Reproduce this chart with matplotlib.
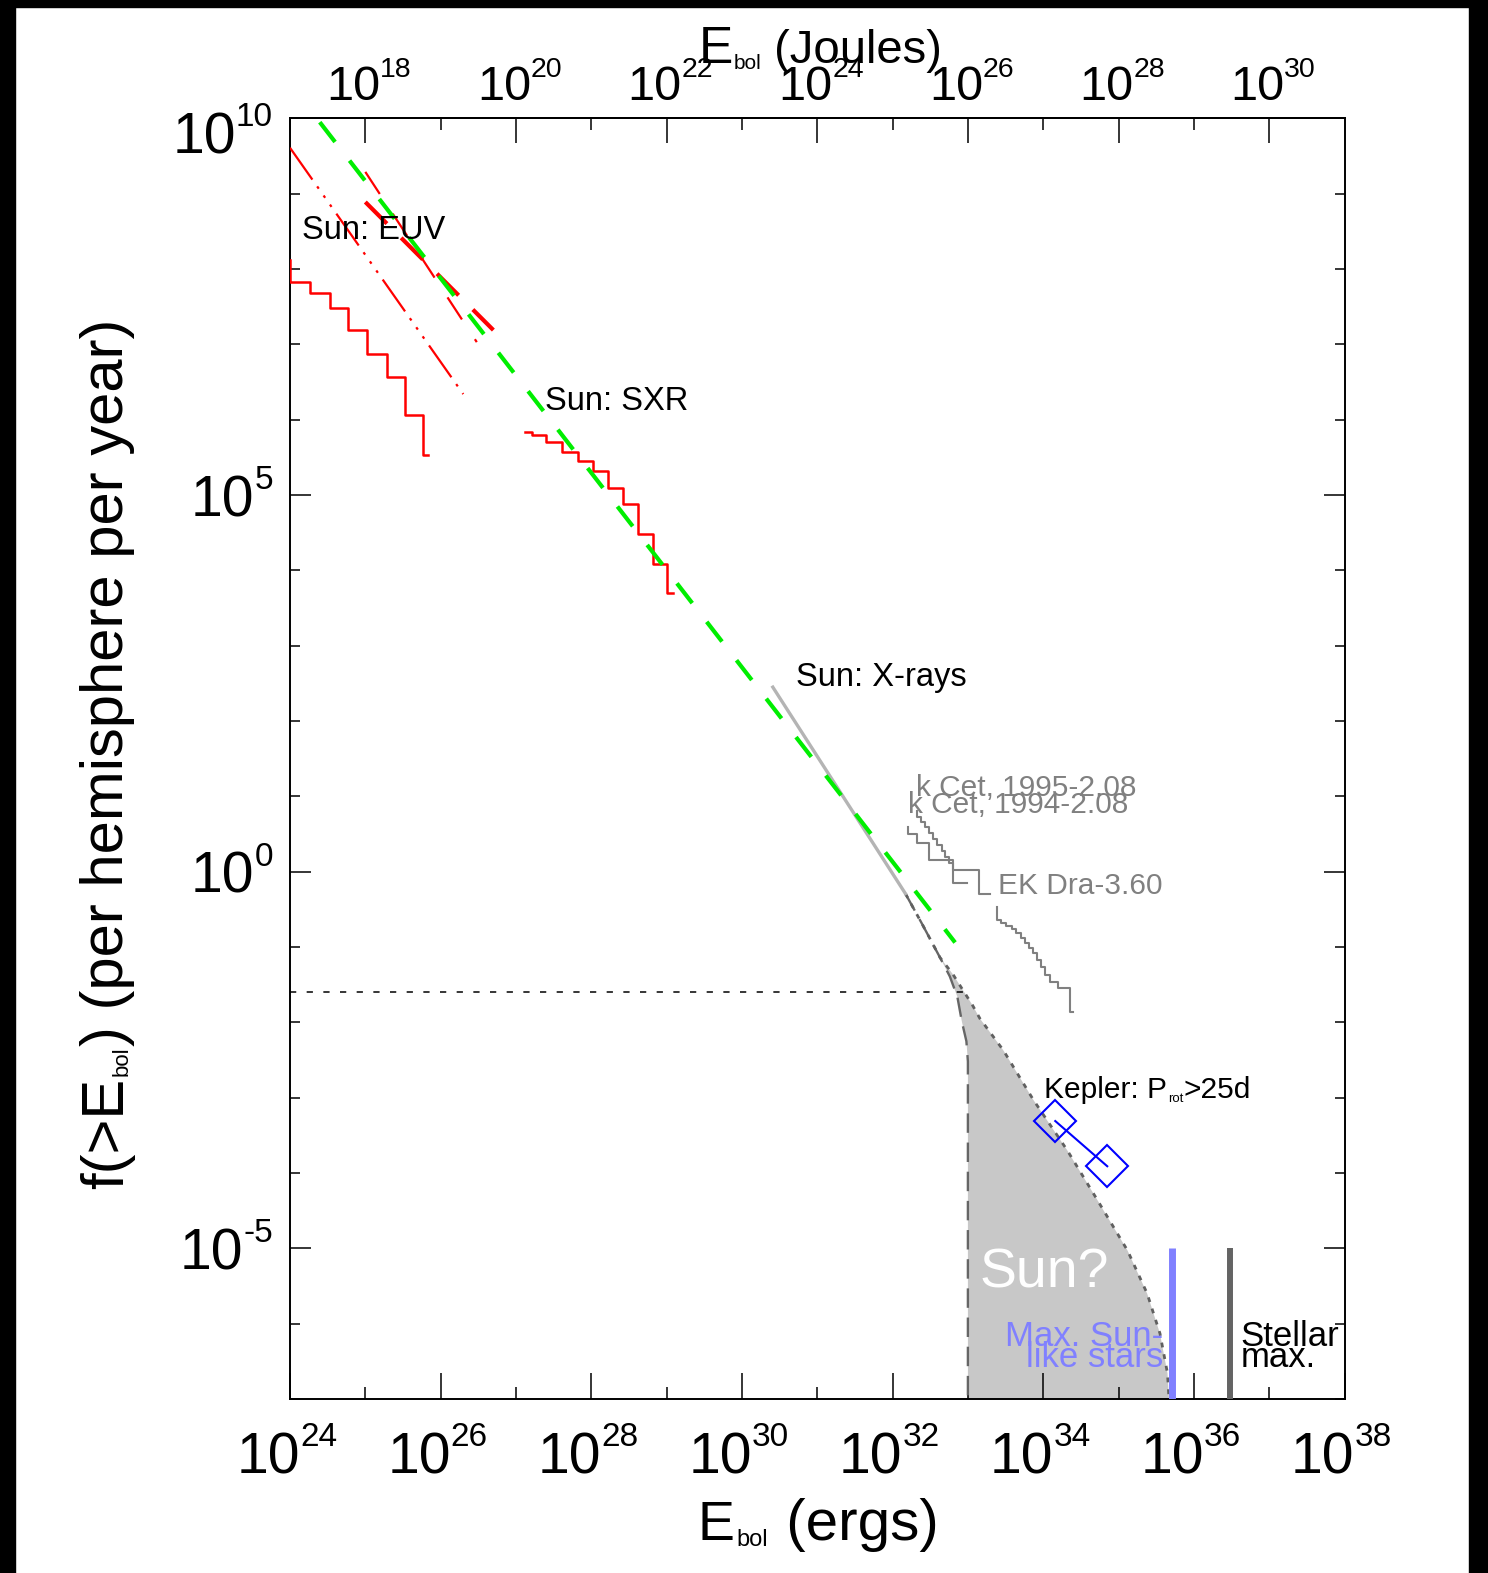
import numpy as np
import matplotlib.pyplot as plt
from matplotlib.patches import Rectangle
from matplotlib.ticker import FixedLocator, NullFormatter

plt.rcParams['font.family'] = ['Liberation Sans', 'DejaVu Sans']
plt.rcParams['lines.scale_dashes'] = False

# all values are log10(E_bol / erg) and log10(f(>E_bol) / yr)
euv_step_e = [24.0, 24.0, 24.27, 24.53, 24.77, 25.02, 25.29, 25.53, 25.77, 25.83]
euv_step_f = [8.12, 7.83, 7.68, 7.48, 7.19, 6.87, 6.57, 6.06, 5.53, 5.53]
euv_fit1_e = [24.0, 26.30]
euv_fit1_f = [9.61, 6.34]
euv_fit2_e = [25.0, 26.48]
euv_fit2_f = [9.29, 7.03]
euv_fit3_e = [25.0, 26.70]
euv_fit3_f = [8.89, 7.19]

sxr_step_e = [27.12, 27.21, 27.40, 27.61, 27.82, 28.02, 28.22, 28.42, 28.62, 28.82, 29.01, 29.09]
sxr_step_f = [5.84, 5.80, 5.70, 5.57, 5.45, 5.32, 5.09, 4.88, 4.48, 4.08, 3.70, 3.70]

fit_e = [24.0, 32.83]
fit_f = [10.46, -0.94]

xray_e = [30.41, 32.17]
xray_f = [2.45, -0.29]

# extrapolated range for the Sun (upper and lower bounds)
upper_e = [32.17, 32.39, 32.63, 32.80, 32.92, 33.06, 33.16, 33.47, 33.87, 34.32,
           34.72, 35.12, 35.38, 35.55, 35.65, 35.67]
upper_f = [-0.29, -0.69, -1.14, -1.36, -1.55, -1.77, -1.95, -2.37, -3.03, -3.70,
           -4.36, -5.03, -5.60, -6.13, -6.66, -7.0]
lower_e = [32.17, 32.39, 32.63, 32.76, 32.86, 32.92, 32.98, 33.0, 33.0]
lower_f = [-0.29, -0.69, -1.14, -1.39, -1.66, -1.99, -2.25, -2.52, -7.0]

kcet94_e = [32.21, 32.21, 32.33, 32.49, 32.80, 32.99]
kcet94_f = [0.59, 0.50, 0.38, 0.15, -0.15, -0.15]
kcet95_e = [32.33, 32.33, 32.38, 32.43, 32.49, 32.54, 32.59, 32.65, 32.70, 32.75, 32.80, 33.15, 33.30]
kcet95_f = [0.81, 0.73, 0.66, 0.59, 0.51, 0.43, 0.35, 0.27, 0.19, 0.11, 0.02, -0.29, -0.29]
ekdra_e = [33.39, 33.39, 33.44, 33.51, 33.58, 33.64, 33.71, 33.76, 33.81, 33.87,
           33.92, 33.97, 34.02, 34.09, 34.19, 34.36, 34.40]
ekdra_f = [-0.47, -0.64, -0.68, -0.72, -0.76, -0.82, -0.88, -0.95, -1.01, -1.08,
           -1.17, -1.27, -1.37, -1.46, -1.54, -1.86, -1.86]

kepler_e = [34.16, 34.85]
kepler_f = [-3.31, -3.91]

once_f = -1.60          # once per ~40 years
sunlike_max_e = 35.71
stellar_max_e = 36.48


def p10(v):
    return np.power(10.0, v)


W, H = 1488, 1573
fig = plt.figure(figsize=(W / 100, H / 100), dpi=100)
ax = fig.add_axes([290 / W, 1 - 1399 / H, 1054.5 / W, 1280.6 / H])
ax.set_xscale('log')
ax.set_yscale('log')
ax.set_xlim(1e24, 1e38)
ax.set_ylim(1e-7, 1e10)

# shaded range for the Sun
ax.fill(p10(lower_e + upper_e[::-1]), p10(lower_f + upper_f[::-1]),
        color='#c8c8c8', lw=0, zorder=1)
ax.plot(p10(lower_e), p10(lower_f), color='#666666', lw=1.7,
        dashes=(14, 7), zorder=3)
ax.plot(p10(upper_e), p10(upper_f), color='#606060', lw=2,
        dashes=(3.5, 5), zorder=3)

ax.plot(p10([24, 33]), p10([once_f, once_f]), color='k', lw=1.1,
        dashes=(4.5, 7.5), zorder=2)

# EUV
ax.plot(p10(euv_step_e), p10(euv_step_f), color='r', lw=1.8,
        drawstyle='steps-post', zorder=4)
ax.plot(p10(euv_fit1_e), p10(euv_fit1_f), color='r', lw=1.6,
        dashes=(28, 6, 2, 6, 2, 6, 2, 6), zorder=4)
ax.plot(p10(euv_fit2_e), p10(euv_fit2_f), color='r', lw=1.6,
        dashes=(19, 17), zorder=4)
ax.plot(p10(euv_fit3_e), p10(euv_fit3_f), color='r', lw=3,
        dashes=(22, 14.5), zorder=4)

# SXR
ax.plot(p10(sxr_step_e), p10(sxr_step_f), color='r', lw=1.8,
        drawstyle='steps-post', zorder=4)

ax.plot(p10(fit_e), p10(fit_f), color='#00ee00', lw=3, dashes=(18, 17), zorder=5)

ax.plot(p10(xray_e), p10(xray_f), color='#b4b4b4', lw=2.4, zorder=3)

# stars
for e, f in [(kcet94_e, kcet94_f), (kcet95_e, kcet95_f), (ekdra_e, ekdra_f)]:
    ax.plot(p10(e), p10(f), color='#808080', lw=1.5, drawstyle='steps-post', zorder=4)

ax.plot(p10(kepler_e), p10(kepler_f), color='b', lw=1.5, marker='D',
        ms=21, mfc='none', mec='b', mew=1.5, zorder=6)

ax.vlines(p10(sunlike_max_e), 1e-7, 1e-5, color='#8080ff', lw=5, zorder=5)
ax.vlines(p10(stellar_max_e), 1e-7, 1e-5, color='#646464', lw=4.3, zorder=5)

# labels inside the plot
txt = dict(va='baseline', ha='left', zorder=7)
ax.text(p10(24.16), p10(8.40), 'Sun: EUV', fontsize=23.5, **txt)
ax.text(p10(27.39), p10(6.13), 'Sun: SXR', fontsize=23.5, **txt)
ax.text(p10(30.72), p10(2.46), 'Sun: X-rays', fontsize=23.5, **txt)
ax.text(p10(32.31), p10(1.01), 'k Cet, 1995-2.08', fontsize=21.5, color='#808080', **txt)
ax.text(p10(32.21), p10(0.78), 'k Cet, 1994-2.08', fontsize=21.5, color='#808080', **txt)
ax.text(p10(33.40), p10(-0.29), 'EK Dra-3.60', fontsize=21.5, color='#808080', **txt)
ax.text(p10(33.16), p10(-5.52), 'Sun?', fontsize=40, color='w', **txt)
ax.text(p10(35.59), p10(-6.29), 'Max. Sun-', fontsize=25, color='#8080ff',
        va='baseline', ha='right', zorder=7)
ax.text(p10(35.59), p10(-6.58), 'like stars', fontsize=25, color='#8080ff',
        va='baseline', ha='right', zorder=7)
ax.text(p10(36.62), p10(-6.29), 'Stellar', fontsize=25, **txt)
ax.text(p10(36.62), p10(-6.58), 'max.', fontsize=25, **txt)

kp = ax.text(p10(34.01), p10(-3.0), 'Kepler: P', fontsize=21.5, **txt)
ks = ax.annotate('rot', xy=(1, p10(-3.0)), xycoords=(kp, 'data'), xytext=(1, -4),
                 textcoords='offset pixels', fontsize=9.5, va='baseline', ha='left')
ax.annotate('>25d', xy=(1, p10(-3.0)), xycoords=(ks, 'data'), xytext=(0, 0),
            textcoords='offset pixels', fontsize=21.5, va='baseline', ha='left')

# ticks
for a in (ax.xaxis, ax.yaxis):
    a.set_major_formatter(NullFormatter())
    a.set_minor_formatter(NullFormatter())
ax.xaxis.set_major_locator(FixedLocator(p10(np.arange(24, 39, 2))))
ax.xaxis.set_minor_locator(FixedLocator(p10(np.arange(25, 38, 2))))
ax.yaxis.set_major_locator(FixedLocator(p10([-5, 0, 5, 10])))
ax.yaxis.set_minor_locator(FixedLocator(p10(np.arange(-7, 11))))
ax.tick_params(axis='x', which='major', direction='in', length=18.7, width=1.1, top=False)
ax.tick_params(axis='x', which='minor', direction='in', length=8.6, width=1.1, top=False)
ax.tick_params(axis='y', which='major', direction='in', length=15, width=1.1, right=True)
ax.tick_params(axis='y', which='minor', direction='in', length=7.2, width=1.1, right=True)
for s in ax.spines.values():
    s.set_linewidth(1.4)

sec = ax.secondary_xaxis('top', functions=(lambda e: e / 1e7, lambda j: j * 1e7))
sec.xaxis.set_major_locator(FixedLocator(p10(np.arange(18, 31, 2))))
sec.xaxis.set_minor_locator(FixedLocator(p10(np.arange(17, 31, 2))))
sec.xaxis.set_major_formatter(NullFormatter())
sec.xaxis.set_minor_formatter(NullFormatter())
sec.tick_params(which='major', direction='in', length=18, width=1.1)
sec.tick_params(which='minor', direction='in', length=8.6, width=1.1)
sec.spines['top'].set_linewidth(1.4)


# tick labels as 10 with a smaller raised exponent
def power_label(x, y, coords, e, big, small, dx, dy, rise):
    t = ax.annotate('10', xy=(x, y), xycoords=coords, xytext=(dx, dy),
                    textcoords='offset pixels', fontsize=big, ha='right', va='baseline')
    ax.annotate(str(e), xy=(1, y), xycoords=(t, coords[1]), xytext=(0, dy + rise),
                textcoords='offset pixels', fontsize=small, ha='left', va='baseline')


for e in range(24, 39, 2):
    power_label(p10(e), 0, ('data', 'axes fraction'), e, 41, 24, 10, -74, 27)
for j in range(18, 31, 2):
    power_label(p10(j + 7), 1, ('data', 'axes fraction'), j, 35, 20.5, 15, 18, 23)
for e in (-5, 0, 5, 10):
    drop = 35 if e == 10 else 21
    te = ax.annotate(str(e), xy=(0, p10(e)), xycoords=('axes fraction', 'data'),
                     xytext=(-17, 27 - drop), textcoords='offset pixels',
                     fontsize=24, ha='right', va='baseline')
    ax.annotate('10', xy=(0, p10(e)), xycoords=(te, 'data'),
                xytext=(0, -drop), textcoords='offset pixels',
                fontsize=41, ha='right', va='baseline')


# axis titles with small subscripts
def ebol(x, y, rest, size, subsize, restsize, gap):
    m = ax.annotate('E', xy=(x, H - y), xycoords='figure pixels', fontsize=size,
                    ha='left', va='baseline', annotation_clip=False)
    s = ax.annotate('bol', xy=(1, H - y), xycoords=(m, 'figure pixels'),
                    xytext=(gap, -6), textcoords='offset pixels', fontsize=subsize,
                    ha='left', va='baseline', annotation_clip=False)
    ax.annotate(rest, xy=(1, H - y), xycoords=(s, 'figure pixels'),
                xytext=(gap, 0), textcoords='offset pixels', fontsize=restsize,
                ha='left', va='baseline', annotation_clip=False)


ebol(697, 1540, ' (ergs)', 40, 17, 42, 2)
ebol(699, 63, ' (Joules)', 37, 15, 34, 0)

yl = ax.annotate('f(>E', xy=(135, H - 1189), xycoords='figure pixels', fontsize=43,
                 rotation=90, ha='right', va='bottom', annotation_clip=False)
ys = ax.annotate('bol', xy=(1, 1), xycoords=yl, xytext=(-2, 2),
                 textcoords='offset pixels', fontsize=16, rotation=90,
                 ha='right', va='bottom', annotation_clip=False)
ax.annotate(') (per hemisphere per year)', xy=(1, 1), xycoords=(yl, ys),
            fontsize=43, rotation=90, ha='right', va='bottom', annotation_clip=False)

# black frame
for r in [(0, H - 7, W, 7), (0, 0, 15, H), (1469, 0, W - 1469, H)]:
    fig.patches.append(Rectangle((r[0] / W, r[1] / H), r[2] / W, r[3] / H,
                                 transform=fig.transFigure, color='k', zorder=0))

fig.savefig('out.png', dpi=100)
